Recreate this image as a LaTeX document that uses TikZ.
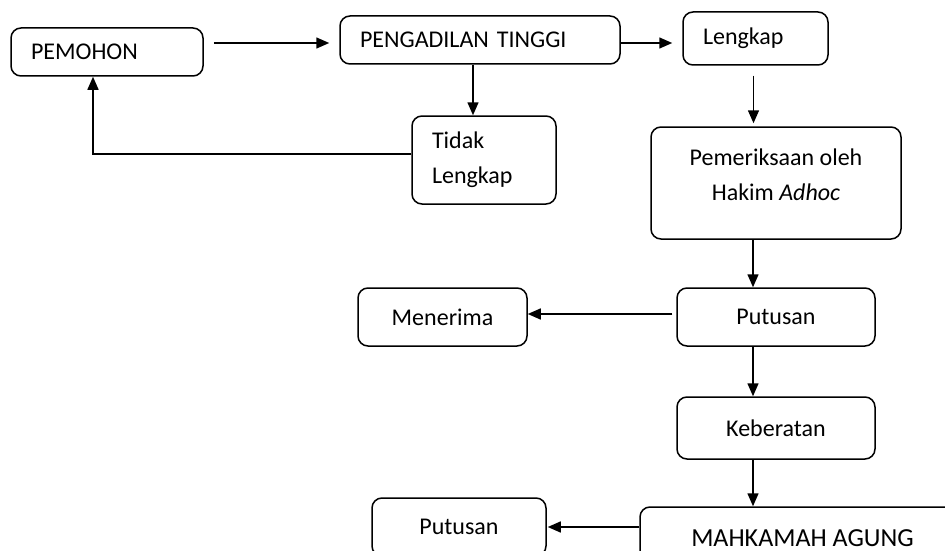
\documentclass[tikz,border=0pt]{standalone}
\usepackage{fontspec}
\setmainfont{Carlito}
\usetikzlibrary{arrows.meta}
\definecolor{garis}{RGB}{0,0,0}

\tikzset{
  blok/.style={draw=garis, line width=1.5pt, rounded corners=10pt, font=\fontsize{24}{35}\selectfont},
  kiri/.style={align=left, inner xsep=20pt},
  panah/.style={draw=garis, line width=1.5pt, -{Triangle[length=13pt,width=11pt]}}
}

\begin{document}
\begin{tikzpicture}[x=1pt, y=-1pt]
  \useasboundingbox (0,0) rectangle (945,551);

  % kotak
  \node[blok, kiri, text width=152pt, minimum height=48pt] (pemohon) at (107,52) {PEMOHON};
  \node[blok, kiri, text width=240pt, minimum height=48pt] (pengadilan) at (480,40) {PENGADILAN TINGGI};
  \node[blok, kiri, text width=105pt, minimum height=53pt] (lengkap) at (755.5,38.5) {Lengkap};
  \node[blok, kiri, text width=104pt, minimum height=88pt] (tidak) at (484,160) {Tidak\\Lengkap};
  \node[blok, align=center, minimum width=250pt, minimum height=112pt] (periksa) at (776,183) {Pemeriksaan oleh\\Hakim \textit{Adhoc}\\[-19pt]};
  \node[blok, minimum width=198pt, minimum height=58pt] (putusan) at (776,317) {Putusan};
  \node[blok, minimum width=169pt, minimum height=58pt] (menerima) at (442.5,317) {Menerima};
  \node[blok, minimum width=198pt, minimum height=62pt] (keberatan) at (776,428) {Keberatan};
  \node[blok, minimum width=325pt, minimum height=62pt, font=\fontsize{26}{30}\selectfont] (ma) at (802.5,538) {MAHKAMAH AGUNG};
  \node[blok, minimum width=174pt, minimum height=58pt] (putusanma) at (459,527) {Putusan};

  % panah
  \draw[panah, shorten <=10pt, shorten >=10pt] ([yshift=9pt]pemohon.east) -- ([yshift=9pt]pemohon.east -| pengadilan.west);
  \draw[panah, shorten >=10pt] ([yshift=-3pt]pengadilan.east) -- ([yshift=-3pt]pengadilan.east -| lengkap.west);
  \draw[panah, shorten <=10pt, shorten >=3pt] ([xshift=-2pt]lengkap.south) -- ([xshift=-2pt]lengkap.south |- periksa.north);
  \draw[panah] ([xshift=-7pt]pengadilan.south) -- ([xshift=-7pt]pengadilan.south |- tidak.north);
  \draw[panah] ([yshift=6pt]tidak.west) -| ([xshift=-14pt]pemohon.south);
  \draw[panah] ([xshift=-23pt]periksa.south) -- ([xshift=-23pt]periksa.south |- putusan.north);
  \draw[panah, shorten <=4pt] ([yshift=3pt]putusan.west) -- ([yshift=3pt]putusan.west -| menerima.east);
  \draw[panah] ([xshift=-23pt]putusan.south) -- ([xshift=-23pt]putusan.south |- keberatan.north);
  \draw[panah] ([xshift=-23pt]keberatan.south) -- ([xshift=-23pt]keberatan.south |- ma.north);
  \draw[panah, shorten >=1pt] ([yshift=11pt]ma.west) -- ([yshift=11pt]ma.west -| putusanma.east);
\end{tikzpicture}
\end{document}
